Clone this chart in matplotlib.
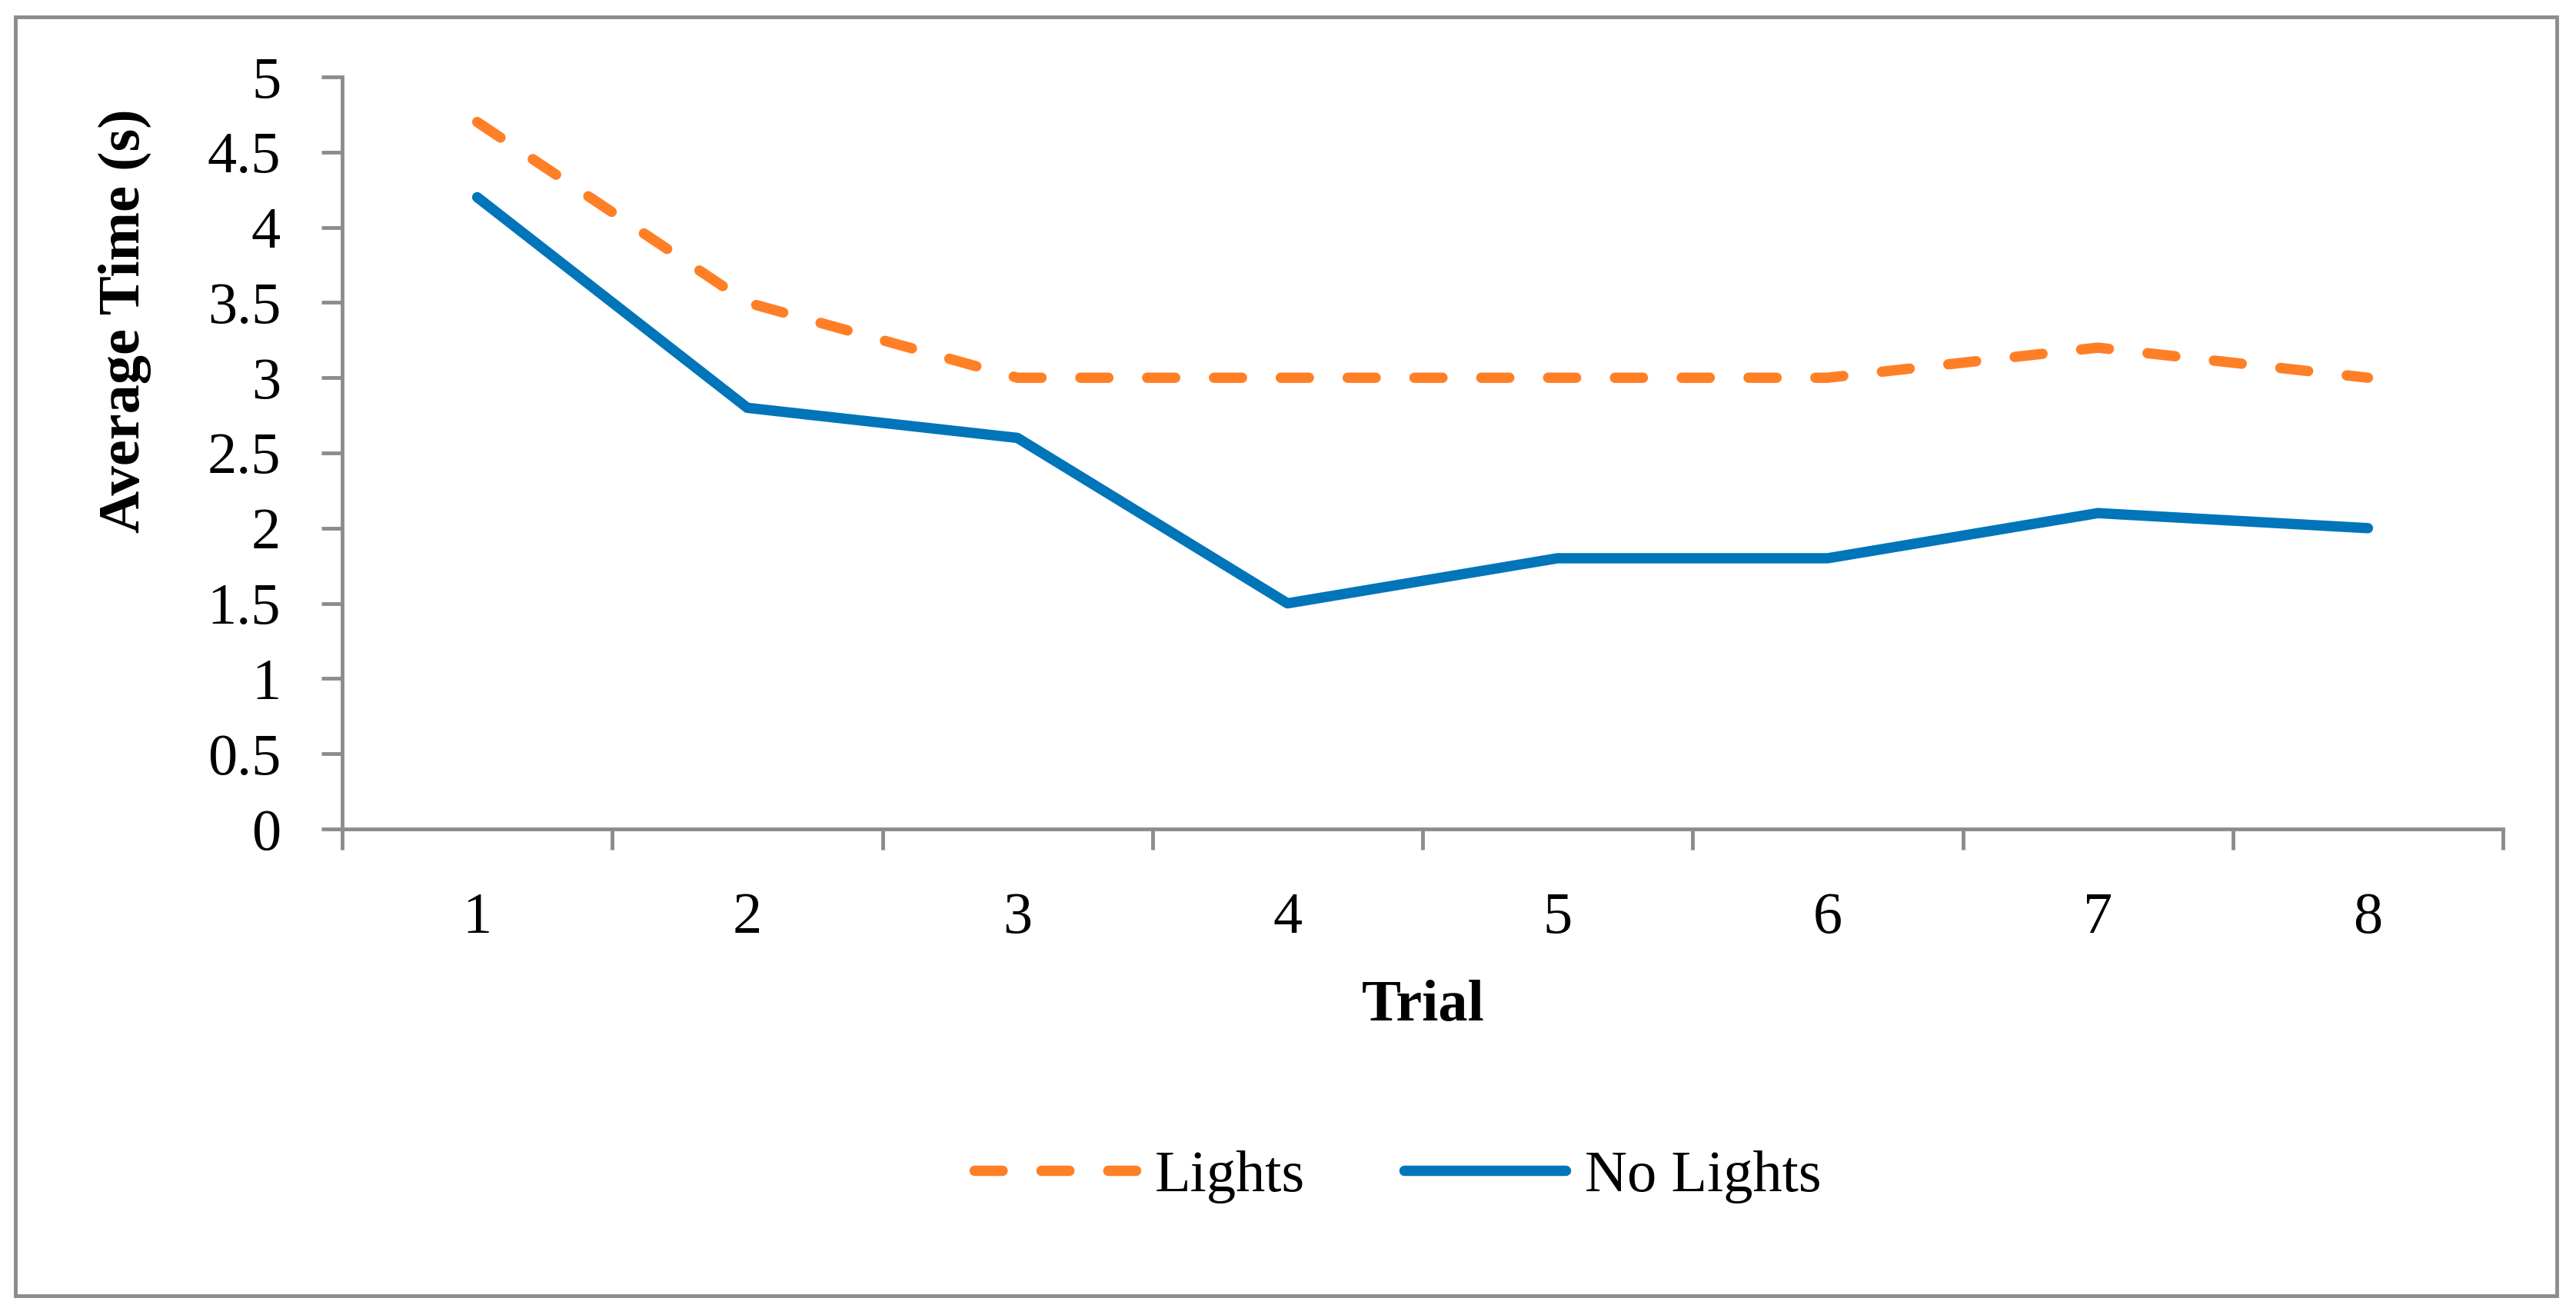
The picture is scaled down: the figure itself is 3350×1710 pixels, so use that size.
import matplotlib
matplotlib.use("Agg")
import matplotlib.pyplot as plt
from matplotlib.patches import Rectangle

# data
trials = [1, 2, 3, 4, 5, 6, 7, 8]
trial_labels = ['1', '2', '3', '4', '5', '6', '7', '8']
lights = [4.7, 3.5, 3.0, 3.0, 3.0, 3.0, 3.2, 3.0]
no_lights = [4.2, 2.8, 2.6, 1.5, 1.8, 1.8, 2.1, 2.0]
y_ticks = [0, 0.5, 1, 1.5, 2, 2.5, 3, 3.5, 4, 4.5, 5]
y_tick_labels = ['0', '0.5', '1', '1.5', '2', '2.5', '3', '3.5', '4', '4.5', '5']

plt.rcParams['font.family'] = ['Liberation Serif', 'DejaVu Serif']
fs = 55
grey = '#8C8C8C'
orange = '#FF7F27'
blue = '#0075B9'
W, H = 3350, 1710

fig = plt.figure(figsize=(W / 100, H / 100), dpi=100)
ax = fig.add_axes([445 / W, 1 - 1078 / H, (3255 - 445) / W, (1078 - 100) / H])

# outer chart frame
fig.patches.append(Rectangle((20 / W, 1 - 1685 / H), (3325 - 20) / W, (1685 - 22) / H,
                             transform=fig.transFigure, fill=False,
                             edgecolor=grey, linewidth=3.5))

ln1, = ax.plot(trials, lights, color=orange, linewidth=9.7, label='Lights',
               solid_capstyle='round', dash_capstyle='round', solid_joinstyle='round')
ln1.set_dashes((2.7, 3.75))
ln2, = ax.plot(trials, no_lights, color=blue, linewidth=9.7, label='No Lights',
               solid_capstyle='round', solid_joinstyle='round')

ax.set_xlim(0.5, 8.5)
ax.set_ylim(0, 5)

# ticks between categories, labels at category centres
ax.set_xticks([t - 0.5 for t in trials] + [trials[-1] + 0.5])
ax.set_xticklabels([])
ax.set_xticks(trials, minor=True)
ax.set_xticklabels(trial_labels, minor=True, fontsize=fs)
ax.tick_params(axis='x', which='major', direction='out', length=19.5, width=3.5, color=grey)
ax.tick_params(axis='x', which='minor', length=0, pad=59)

ax.set_yticks(y_ticks)
ax.set_yticklabels(y_tick_labels, fontsize=fs)
ax.tick_params(axis='y', direction='out', length=19.5, width=3.5, color=grey, pad=38)

for s in ['top', 'right']:
    ax.spines[s].set_visible(False)
for s in ['left', 'bottom']:
    ax.spines[s].set_color(grey)
    ax.spines[s].set_linewidth(3.5)

ax.set_ylabel('Average Time (s)', fontsize=fs, fontweight='bold')
ax.yaxis.set_label_coords((162 - 445) / 2810, (1078 - 417) / 978)
ax.yaxis.label.set_va('center')
ax.set_xlabel('Trial', fontsize=fs, fontweight='bold')
ax.xaxis.set_label_coords((1851 - 445) / 2810, (1078 - 1308) / 978)
ax.xaxis.label.set_va('center')

fig.legend(handles=[ln1, ln2], loc='center', bbox_to_anchor=(1818 / W, 1 - 1530 / H),
           ncol=2, frameon=False, fontsize=fs, handlelength=2.74,
           handletextpad=0.33, columnspacing=1.69, borderpad=0)

fig.savefig('out.png', dpi=100, facecolor='white')
